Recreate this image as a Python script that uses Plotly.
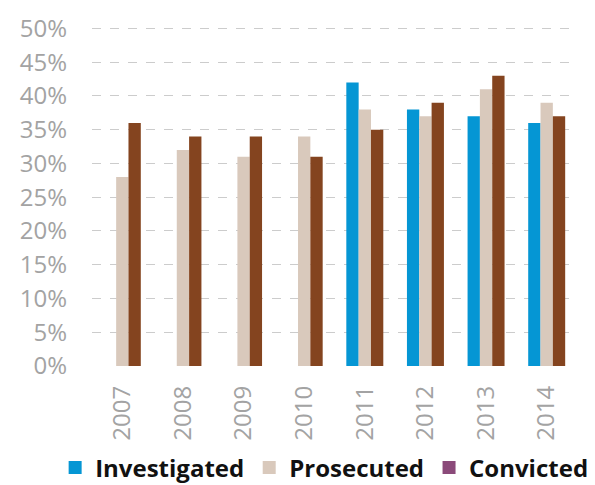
import plotly.graph_objects as go

years = ["2007", "2008", "2009", "2010", "2011", "2012", "2013", "2014"]
investigated = [None, None, None, None, 42, 38, 37, 36]
prosecuted = [28, 32, 31, 34, 38, 37, 41, 39]
convicted = [36, 34, 34, 31, 35, 39, 43, 37]

series_names = ["Investigated", "Prosecuted", "Convicted"]
bar_colors = ["#0596d4", "#d9c9bc", "#84441f"]
legend_colors = ["#0596d4", "#d9c9bc", "#8b4a7a"]
y_ticks = list(range(0, 51, 5))

fig = go.Figure()
for name, vals, col in zip(series_names, [investigated, prosecuted, convicted], bar_colors):
    fig.add_trace(go.Bar(
        x=years, y=vals, name=name, showlegend=False,
        marker=dict(color=col, line=dict(width=0)),
    ))

# legend swatches
for name, col in zip(series_names, legend_colors):
    fig.add_trace(go.Scatter(
        x=[None], y=[None], mode="markers", name=name,
        marker=dict(symbol="square", size=13, color=col),
    ))

fig.update_layout(
    width=595, height=485,
    margin=dict(l=92, r=18, t=25, b=119, autoexpand=False),
    paper_bgcolor="white", plot_bgcolor="white",
    barmode="group", bargap=0.39, bargroupgap=0,
    font=dict(family="Open Sans", color="#a3a3a3"),
    showlegend=True,
    legend=dict(
        orientation="h", x=-0.076, xanchor="left",
        y=-0.299, yanchor="middle",
        bgcolor="rgba(0,0,0,0)",
        font=dict(family="Open Sans", size=24, color="#111111", weight="bold"),
        itemwidth=30, tracegroupgap=0,
    ),
    xaxis=dict(
        type="category", tickangle=-90, showgrid=False, zeroline=False,
        showline=False, ticks="", ticklabelstandoff=14, automargin=False,
        tickfont=dict(size=24, color="#a3a3a3"),
    ),
    yaxis=dict(
        range=[0, 50.5], tickvals=y_ticks, ticktext=[f"{v}%" for v in y_ticks],
        showgrid=True, gridcolor="#cccccc", gridwidth=1.3, griddash="dash",
        zeroline=False, showline=False, ticks="", ticklabelstandoff=24,
        automargin=False,
        tickfont=dict(size=24, color="#a3a3a3"),
    ),
)

fig.write_html("out.html")
